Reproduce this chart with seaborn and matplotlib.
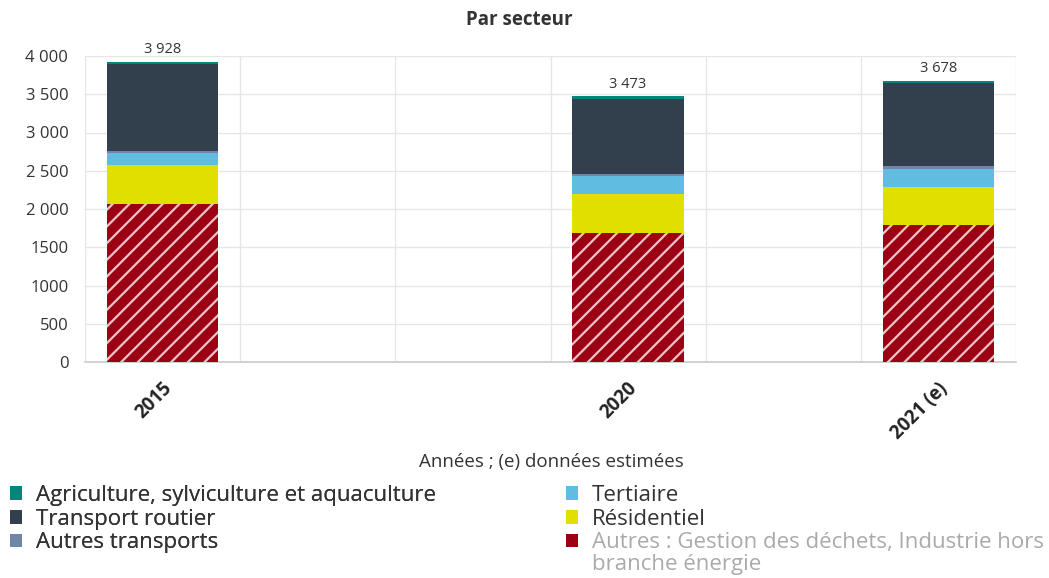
import numpy as np
import pandas as pd
import matplotlib
matplotlib.use("Agg")
import matplotlib.pyplot as plt
from matplotlib.patches import Patch
import seaborn as sns

# ---------------- data ----------------
slots = ["2015", "slot_a", "slot_b", "2020", "slot_c", "2021 (e)"]
slot_labels = ["2015", "", "", "2020", "", "2021 (e)"]
years = ["2015", "2020", "2021 (e)"]

autres = [2061, 1687, 1788]
residentiel = [514, 505, 500]
tertiaire = [153, 239, 238]
autres_transports = [30, 31, 32]
transport_routier = [1141, 976, 1083]
agriculture = [29, 35, 37]
total_labels = ["3 928", "3 473", "3 678"]

series_names = [
    "Autres : Gestion des déchets, Industrie hors",
    "Résidentiel",
    "Tertiaire",
    "Autres transports",
    "Transport routier",
    "Agriculture, sylviculture et aquaculture",
]
autres_name_line2 = "branche énergie"
series_values = [autres, residentiel, tertiaire, autres_transports,
                 transport_routier, agriculture]
series_colors = ["#9c0014", "#e1df00", "#5fbde2", "#7086a8", "#323f4d", "#00867a"]

y_ticks = [0, 500, 1000, 1500, 2000, 2500, 3000, 3500, 4000]
y_tick_labels = ["0", "500", "1000", "1500", "2 000", "2 500", "3 000", "3 500", "4 000"]

title = "Par secteur"
x_title = "Années ; (e) données estimées"

# ---------------- style ----------------
sns.set_theme(style="white")
plt.rcParams['font.family'] = ['Open Sans', 'DejaVu Sans']
plt.rcParams['hatch.linewidth'] = 1.6

W, H = 1049, 578
fig = plt.figure(figsize=(W / 100, H / 100), dpi=100)
ax = fig.add_axes([85 / W, 1 - 362 / H, (1016 - 85) / W, 306 / H])

grid_c = "#e6e6e6"

# cumulative stacks, drawn from top layer to bottom
cums = np.cumsum(np.array(series_values, dtype=float), axis=0)
for i in reversed(range(len(series_values))):
    df = pd.DataFrame({"year": years, "value": cums[i]})
    kw = dict(linewidth=0)
    if i == 0:
        kw.update(hatch="//", edgecolor="#efc4c9")
    sns.barplot(data=df, x="year", y="value", order=slots,
                color=series_colors[i], saturation=1, width=0.72,
                errorbar=None, ax=ax, zorder=3, **kw)

# totals
for yr, tot, lab in zip(years, cums[-1], total_labels):
    ax.annotate(lab, (slots.index(yr), tot), xytext=(0, 3),
                textcoords="offset points", ha="center", va="bottom",
                fontsize=10.5, color="#333333")

ax.set_xlim(-0.5, len(slots) - 0.5)
ax.set_ylim(0, 4000)
ax.set_yticks(y_ticks)
ax.set_yticklabels(y_tick_labels, fontsize=12, color="#333333")
# label anchors sit slightly right of the slot centres (rotated labels)
ax.set_xticks(np.arange(len(slots)) + 0.04)
ax.set_xticklabels(slot_labels, rotation=45, ha="right", va="center",
                   rotation_mode="anchor", fontsize=13.5, fontweight="bold",
                   color="#222222")
ax.tick_params(axis="x", which="major", length=0, pad=17)
ax.set_xticks(np.arange(-0.5, len(slots), 1), minor=True)
ax.tick_params(axis="x", which="minor", length=9, color=grid_c, width=1)
ax.tick_params(axis="y", length=9, color=grid_c, width=1, pad=3)
ax.grid(True, axis="y", color=grid_c, linewidth=1, zorder=0)
ax.grid(True, axis="x", which="minor", color=grid_c, linewidth=1, zorder=0)
ax.set_axisbelow(True)
for s in ["top", "right", "left"]:
    ax.spines[s].set_visible(False)
ax.spines["bottom"].set_color("#cccccc")
ax.set_xlabel("")
ax.set_ylabel("")

fig.text(519 / W, 1 - 20 / H, title, ha="center", va="center",
         fontsize=13.5, fontweight="bold", color="#333333")
fig.text(551 / W, 1 - 462 / H, x_title, ha="center", va="center",
         fontsize=13.5, color="#333333")

# legends (two columns)
def make_legend(idx, x, y):
    handles = [Patch(facecolor=series_colors[i], edgecolor="none") for i in idx]
    labels = [series_names[i] for i in idx]
    leg = fig.legend(handles, labels, loc="upper left", bbox_to_anchor=(x, y),
                     frameon=False, fontsize=16, handlelength=0.55, handleheight=0.55,
                     handletextpad=0.6, labelspacing=0.12, borderaxespad=0,
                     borderpad=0)
    return leg

leg1 = make_legend([5, 4, 3], 10 / W, 1 - 485 / H)
leg2 = make_legend([2, 1, 0], 566 / W, 1 - 485 / H)
for t in leg1.get_texts():
    t.set_color("#333333")
for j, t in enumerate(leg2.get_texts()):
    t.set_color("#aaaaaa" if j == 2 else "#333333")
fig.add_artist(leg1)

fig.canvas.draw()
last = leg2.get_texts()[2]
bb = last.get_window_extent()
fig.text(bb.x0 / W, (bb.y0 - 1) / H, autres_name_line2, ha="left", va="top",
         fontsize=16, color="#aaaaaa")

fig.savefig("out.png", dpi=100)
